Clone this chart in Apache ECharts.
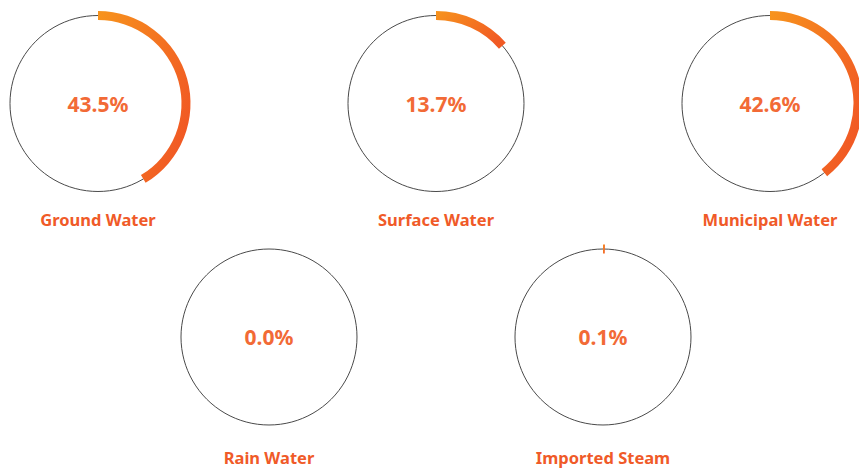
<!DOCTYPE html>
<html>
<head>
<meta charset="utf-8">
<script src="https://cdn.jsdelivr.net/npm/echarts@6/dist/echarts.min.js"></script>
<style>
  html, body { margin: 0; padding: 0; background: #fff; }
  #chart { width: 859px; height: 468px; }
</style>
</head>
<body>
<div id="chart"></div>
<script>
const categories = ['Ground Water', 'Surface Water', 'Municipal Water', 'Rain Water', 'Imported Steam'];
// printed shares (%)
const shares = [43.5, 13.7, 42.6, 0.0, 0.1];
// arc lengths as drawn in the picture (% of a full turn)
const arcShares = [41.4, 13.6, 39.4, 0.0, 0.1];

// layout of each ring (px)
const centers = [[98, 103.5], [436, 103.5], [770, 103.5], [269, 337], [603, 337]];
const nameTops = [211, 211, 211, 449, 449];
const ringR = 88;

const fontFamily = '"Noto Sans", "Open Sans", sans-serif';

const arcColor = new echarts.graphic.LinearGradient(0, 0, 1, 0.6, [
    { offset: 0, color: '#F7941D' },
    { offset: 1, color: '#F15A24' }
]);

const series = [];
const titles = [];

categories.forEach((name, i) => {
    const c = centers[i];
    // thin outline circle + percent label in the middle
    series.push({
        type: 'pie',
        center: c,
        radius: [0, ringR],
        silent: true,
        z: 1,
        label: {
            show: true,
            position: 'center',
            formatter: shares[i].toFixed(1) + '%',
            color: '#F26A36',
            fontSize: 21,
            fontWeight: 'bold',
            fontFamily: fontFamily
        },
        labelLine: { show: false },
        itemStyle: { color: 'rgba(0,0,0,0)', borderColor: '#4a4a4a', borderWidth: 1 },
        data: [{ value: 1, name: name }]
    });
    // share arc
    series.push({
        type: 'pie',
        center: c,
        radius: [83.5, 92.5],
        startAngle: 90,
        clockwise: true,
        minAngle: arcShares[i] > 0 ? 1.2 : 0,
        silent: true,
        z: 2,
        label: { show: false },
        labelLine: { show: false },
        data: [
            { value: arcShares[i], itemStyle: { color: arcColor, borderWidth: 0 } },
            { value: 100 - arcShares[i], itemStyle: { color: 'rgba(0,0,0,0)', borderWidth: 0 } }
        ]
    });
    titles.push({
        text: name,
        left: c[0],
        top: nameTops[i],
        textAlign: 'center',
        padding: 0,
        textStyle: {
            color: '#F05A28',
            fontSize: 16.5,
            fontWeight: 'bold',
            fontFamily: fontFamily
        }
    });
});

const chart = echarts.init(document.getElementById('chart'), null, { renderer: 'svg' });
chart.setOption({
    animation: false,
    title: titles,
    series: series
});
</script>
</body>
</html>
